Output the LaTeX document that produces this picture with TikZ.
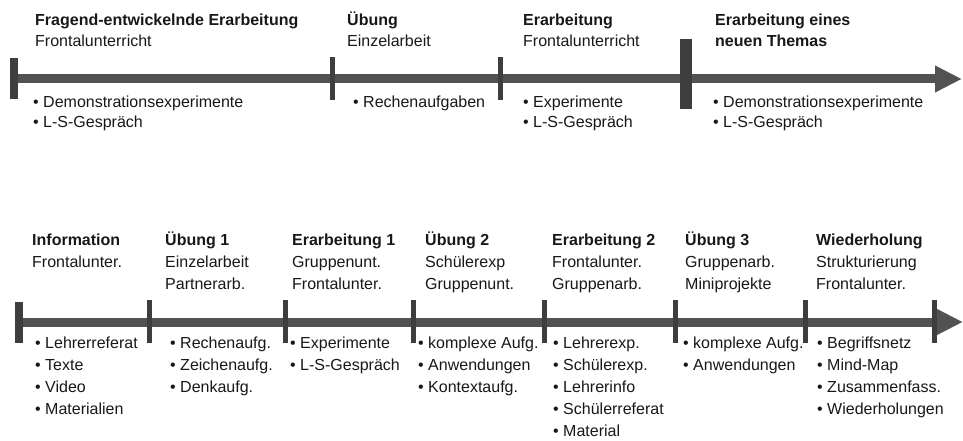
\documentclass[tikz,border=0pt]{standalone}
\usepackage{fontspec}
\setmainfont{Liberation Sans}
\usetikzlibrary{arrows.meta}
\definecolor{barcol}{RGB}{82,82,82}
\definecolor{tickcol}{RGB}{62,62,62}
\definecolor{txt}{RGB}{24,24,24}
\newcommand\mylines[1]{\begin{tabular}[t]{@{}l@{}}#1\end{tabular}}
\begin{document}
\begin{tikzpicture}[x=1pt,y=-1pt,
  lbltop/.style={anchor=base west, inner sep=0pt, text=txt,
    font=\fontsize{16}{20.5}\selectfont},
  lblbot/.style={anchor=base west, inner sep=0pt, text=txt,
    font=\fontsize{16}{22}\selectfont},
  timeline/.style={draw=barcol, line width=9pt,
    -{Triangle[length=27pt,width=25pt]}},
  tickthin/.style={fill=tickcol, inner sep=0pt, minimum width=5pt, minimum height=43pt},
  tickthick/.style={fill=tickcol, inner sep=0pt, minimum width=8pt, minimum height=41pt},
  tickbig/.style={fill=tickcol, inner sep=0pt, minimum width=12pt, minimum height=70pt}
]
\useasboundingbox[fill=white] (0,0) rectangle (963,441);

% ---------- top timeline ----------
\coordinate (ts) at (12,79);
\coordinate (te) at (962,79);
\draw[timeline] (ts) -- (te);
\node[tickthick] (t1) at (14,79) {};
\node[tickthin] (t2) at (332,78.5) {};
\node[tickthin] (t3) at (500,78.5) {};
\node[tickbig] (t4) at (686,74) {};

\node[lbltop] (h1) at (35,26) {\mylines{\textbf{Fragend-entwickelnde Erarbeitung}\\Frontalunterricht}};
\node[lbltop] (h2) at (347,26) {\mylines{\textbf{Übung}\\Einzelarbeit}};
\node[lbltop] (h3) at (523,26) {\mylines{\textbf{Erarbeitung}\\Frontalunterricht}};
\node[lbltop] (h4) at (715,26) {\mylines{\textbf{Erarbeitung eines}\\\textbf{neuen Themas}}};

\node[lbltop] (b1) at (33,107) {\mylines{• Demonstrationsexperimente\\• L-S-Gespräch}};
\node[lbltop] (b2) at (353,107) {\mylines{• Rechenaufgaben}};
\node[lbltop] (b3) at (523,107) {\mylines{• Experimente\\• L-S-Gespräch}};
\node[lbltop] (b4) at (713,107) {\mylines{• Demonstrationsexperimente\\• L-S-Gespräch}};

% ---------- bottom timeline ----------
\coordinate (us) at (17,322);
\coordinate (ue) at (963,322);
\draw[timeline] (us) -- (ue);
\node[tickthick] (u1) at (19,322) {};
\node[tickthin] (u2) at (149,321.5) {};
\node[tickthin] (u3) at (285,321.5) {};
\node[tickthin] (u4) at (413,321.5) {};
\node[tickthin] (u5) at (544,321.5) {};
\node[tickthin] (u6) at (675,321.5) {};
\node[tickthin] (u7) at (805,321.5) {};
\node[tickthin] (u8) at (934,321.5) {};

\node[lblbot] (g1) at (32,245) {\mylines{\textbf{Information}\\Frontalunter.}};
\node[lblbot] (g2) at (165,245) {\mylines{\textbf{Übung 1}\\Einzelarbeit\\Partnerarb.}};
\node[lblbot] (g3) at (292,245) {\mylines{\textbf{Erarbeitung 1}\\Gruppenunt.\\Frontalunter.}};
\node[lblbot] (g4) at (425,245) {\mylines{\textbf{Übung 2}\\Schülerexp\\Gruppenunt.}};
\node[lblbot] (g5) at (552,245) {\mylines{\textbf{Erarbeitung 2}\\Frontalunter.\\Gruppenarb.}};
\node[lblbot] (g6) at (685,245) {\mylines{\textbf{Übung 3}\\Gruppenarb.\\Miniprojekte}};
\node[lblbot] (g7) at (816,245) {\mylines{\textbf{Wiederholung}\\Strukturierung\\Frontalunter.}};

\node[lblbot] (c1) at (35,348) {\mylines{• Lehrerreferat\\• Texte\\• Video\\• Materialien}};
\node[lblbot] (c2) at (170,348) {\mylines{• Rechenaufg.\\• Zeichenaufg.\\• Denkaufg.}};
\node[lblbot] (c3) at (290,348) {\mylines{• Experimente\\• L-S-Gespräch}};
\node[lblbot] (c4) at (418,348) {\mylines{• komplexe Aufg.\\• Anwendungen\\• Kontextaufg.}};
\node[lblbot] (c5) at (553,348) {\mylines{• Lehrerexp.\\• Schülerexp.\\• Lehrerinfo\\• Schülerreferat\\• Material}};
\node[lblbot] (c6) at (683,348) {\mylines{• komplexe Aufg.\\• Anwendungen}};
\node[lblbot] (c7) at (817,348) {\mylines{• Begriffsnetz\\• Mind-Map\\• Zusammenfass.\\• Wiederholungen}};
\end{tikzpicture}
\end{document}
